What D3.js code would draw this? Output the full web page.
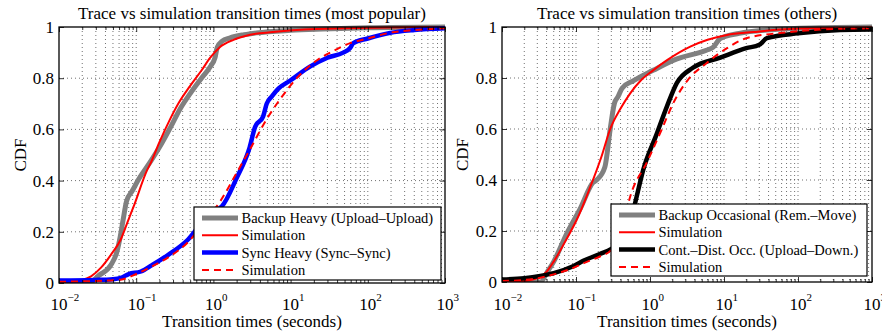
<!DOCTYPE html>
<html>
<head>
<meta charset="utf-8">
<script src="https://cdn.jsdelivr.net/npm/d3@7/dist/d3.min.js"></script>
<style>
  body { margin: 0; background: #fff; }
  text { font-family: "Liberation Serif", "Times New Roman", serif; fill: #000; }
</style>
</head>
<body>
<script>
// data: [seconds, CDF]
const backupHeavyTrace = [[0.01,0],[0.024,0],[0.033,0.03],[0.047,0.07],[0.056,0.12],[0.062,0.18],[0.068,0.25],[0.075,0.32],[0.089,0.36],[0.11,0.41],[0.15,0.47],[0.2,0.53],[0.28,0.61],[0.37,0.68],[0.5,0.74],[0.7,0.8],[0.91,0.845],[1.05,0.88],[1.12,0.92],[1.3,0.945],[1.62,0.957],[2.5,0.97],[3.6,0.977],[10,0.987],[26,0.992],[100,0.997],[1000,1]];
const backupHeavySim = [[0.01,0.004],[0.015,0.006],[0.02,0.012],[0.026,0.026],[0.035,0.06],[0.047,0.11],[0.063,0.17],[0.079,0.246],[0.093,0.3],[0.138,0.44],[0.155,0.47],[0.2,0.55],[0.275,0.64],[0.35,0.7],[0.5,0.77],[0.7,0.83],[0.91,0.88],[1.2,0.92],[1.82,0.95],[3,0.97],[5.9,0.98],[15,0.99],[50,0.995],[200,0.998],[1000,1]];
const syncHeavyTrace = [[0.01,0.01],[0.03,0.012],[0.05,0.015],[0.063,0.02],[0.08,0.035],[0.115,0.045],[0.16,0.07],[0.26,0.11],[0.47,0.17],[0.78,0.25],[1.0,0.28],[1.29,0.3],[2.0,0.41],[2.95,0.53],[3.47,0.61],[4.4,0.65],[4.9,0.7],[5.75,0.73],[7,0.76],[9.8,0.79],[17.8,0.845],[30,0.88],[48,0.9],[59,0.918],[65,0.937],[100,0.955],[195,0.977],[400,0.988],[1000,0.995]];
const syncHeavySim = [[0.01,0.005],[0.03,0.008],[0.063,0.013],[0.1,0.035],[0.16,0.065],[0.26,0.1],[0.47,0.16],[0.78,0.24],[1.23,0.32],[2.0,0.43],[2.95,0.52],[4.9,0.64],[7.2,0.715],[12,0.8],[22,0.87],[35,0.905],[59,0.937],[100,0.955],[195,0.978],[400,0.988],[1000,0.995]];

const backupOccTrace = [[0.01,0],[0.033,0],[0.041,0.04],[0.05,0.08],[0.075,0.19],[0.115,0.29],[0.17,0.39],[0.19,0.4],[0.245,0.45],[0.29,0.6],[0.33,0.7],[0.37,0.727],[0.42,0.76],[0.6,0.79],[1.1,0.83],[2.1,0.87],[5.9,0.91],[7.1,0.92],[8.9,0.955],[16,0.975],[48,0.99],[200,0.997],[1000,1]];
const backupOccSim = [[0.01,0],[0.02,0.004],[0.03,0.015],[0.04,0.04],[0.05,0.08],[0.075,0.17],[0.102,0.243],[0.15,0.36],[0.22,0.49],[0.29,0.6],[0.4,0.68],[0.54,0.74],[0.75,0.79],[1.1,0.83],[1.7,0.87],[3.5,0.923],[6,0.95],[11,0.969],[25,0.98],[46,0.988],[150,0.995],[1000,0.998]];
const contDistTrace = [[0.01,0.01],[0.02,0.015],[0.033,0.024],[0.05,0.035],[0.093,0.063],[0.13,0.085],[0.21,0.11],[0.3,0.13],[0.45,0.17],[0.56,0.25],[0.63,0.31],[0.81,0.44],[1.23,0.58],[1.7,0.69],[2.3,0.78],[3.8,0.84],[8.9,0.88],[20,0.917],[30,0.93],[38,0.956],[100,0.975],[370,0.988],[1000,0.99]];
const contDistSim = [[0.01,0.004],[0.02,0.008],[0.033,0.017],[0.05,0.03],[0.093,0.056],[0.13,0.075],[0.21,0.1],[0.3,0.125],[0.4,0.18],[0.54,0.335],[0.91,0.47],[1.5,0.61],[2.05,0.7],[3.2,0.79],[5.9,0.86],[11,0.917],[20,0.956],[78,0.98],[200,0.99],[1000,0.995]];

const xDecades = [-2, -1, 0, 1, 2, 3];
const yTicks = [0, 0.2, 0.4, 0.6, 0.8, 1];
const yTickLabels = ["0", "0.2", "0.4", "0.6", "0.8", "1"];

const panels = [
  {
    title: "Trace vs simulation transition times (most popular)",
    box: {x0: 59, x1: 445, y0: 27, y1: 283},
    yLabelX: 20,
    legend: {x: 194, y: 207, w: 247, h: 73},
    series: [
      {name: "Backup Heavy (Upload\u2013Upload)", data: backupHeavyTrace, color: "#808080", width: 5},
      {name: "Simulation", data: backupHeavySim, color: "#ff0000", width: 2},
      {name: "Sync Heavy (Sync\u2013Sync)", data: syncHeavyTrace, color: "#0000ff", width: 4.5},
      {name: "Simulation", data: syncHeavySim, color: "#ff0000", width: 2, dash: "7,5"}
    ]
  },
  {
    title: "Trace vs simulation transition times (others)",
    box: {x0: 502, x1: 872, y0: 27, y1: 282},
    yLabelX: 462,
    legend: {x: 611, y: 204, w: 256, h: 72},
    series: [
      {name: "Backup Occasional (Rem.\u2013Move)", data: backupOccTrace, color: "#808080", width: 5},
      {name: "Simulation", data: backupOccSim, color: "#ff0000", width: 2},
      {name: "Cont.\u2013Dist. Occ. (Upload\u2013Down.)", data: contDistTrace, color: "#000000", width: 4.5},
      {name: "Simulation", data: contDistSim, color: "#ff0000", width: 2, dash: "7,5"}
    ]
  }
];

const svg = d3.select("body").append("svg")
  .attr("width", 882)
  .attr("height", 331);

panels.forEach((p, i) => drawPanel(p, i));

function drawPanel(p, i) {
  const b = p.box;
  const x = d3.scaleLog().domain([0.01, 1000]).range([b.x0, b.x1]);
  const y = d3.scaleLinear().domain([0, 1]).range([b.y1, b.y0]);
  const g = svg.append("g");

  // minor x values for grid and small ticks
  const minor = [];
  for (let d = -2; d < 3; d++) {
    for (let k = 2; k <= 9; k++) minor.push(k * Math.pow(10, d));
  }
  const major = xDecades.map(d => Math.pow(10, d));

  const grid = g.append("g")
    .attr("stroke", "#333")
    .attr("stroke-width", 0.7)
    .attr("stroke-dasharray", "1,3");
  grid.selectAll(".vx")
    .data(minor.concat(major.slice(1, -1)))
    .enter().append("line")
    .attr("x1", d => x(d)).attr("x2", d => x(d))
    .attr("y1", b.y0).attr("y2", b.y1);
  grid.selectAll(".hy")
    .data(yTicks.slice(1, -1))
    .enter().append("line")
    .attr("x1", b.x0).attr("x2", b.x1)
    .attr("y1", d => y(d)).attr("y2", d => y(d));

  // curves
  const clipId = "clip" + i;
  svg.append("clipPath").attr("id", clipId)
    .append("rect")
    .attr("x", b.x0).attr("y", b.y0 - 3)
    .attr("width", b.x1 - b.x0).attr("height", b.y1 - b.y0 + 3);
  const line = d3.line()
    .x(d => x(d[0]))
    .y(d => y(d[1]))
    .curve(d3.curveMonotoneX);
  g.append("g").attr("clip-path", `url(#${clipId})`)
    .selectAll("path")
    .data(p.series)
    .enter().append("path")
    .attr("d", d => line(d.data))
    .attr("fill", "none")
    .attr("stroke", d => d.color)
    .attr("stroke-width", d => d.width)
    .attr("stroke-dasharray", d => d.dash || null)
    .attr("stroke-linejoin", "round");

  // axes (ticks pointing inward, on all four sides)
  const axB = d3.axisBottom(x).tickValues(major).tickSizeInner(-5).tickSizeOuter(0).tickFormat("");
  const axT = d3.axisTop(x).tickValues(major).tickSizeInner(-5).tickSizeOuter(0).tickFormat("");
  const axBm = d3.axisBottom(x).tickValues(minor).tickSizeInner(-3).tickSizeOuter(0).tickFormat("");
  const axTm = d3.axisTop(x).tickValues(minor).tickSizeInner(-3).tickSizeOuter(0).tickFormat("");
  const axL = d3.axisLeft(y).tickValues(yTicks).tickSizeInner(-5).tickSizeOuter(0).tickFormat("");
  const axR = d3.axisRight(y).tickValues(yTicks).tickSizeInner(-5).tickSizeOuter(0).tickFormat("");
  [[axB, `translate(0,${b.y1})`], [axBm, `translate(0,${b.y1})`],
   [axT, `translate(0,${b.y0})`], [axTm, `translate(0,${b.y0})`],
   [axL, `translate(${b.x0},0)`], [axR, `translate(${b.x1},0)`]].forEach(([ax, tr]) => {
    const a = g.append("g").attr("transform", tr).call(ax);
    a.select(".domain").remove();
    a.selectAll("line").attr("stroke", "#000").attr("stroke-width", 0.8);
  });

  g.append("rect")
    .attr("x", b.x0).attr("y", b.y0)
    .attr("width", b.x1 - b.x0).attr("height", b.y1 - b.y0)
    .attr("fill", "none").attr("stroke", "#000").attr("stroke-width", 1.3);

  // x tick labels 10^d
  const xl = g.selectAll(".xl")
    .data(xDecades)
    .enter().append("text")
    .attr("x", d => x(Math.pow(10, d)) - 8.5)
    .attr("y", 310)
    .style("font-size", "17px");
  xl.append("tspan").text("10");
  xl.append("tspan")
    .attr("dy", -9)
    .style("font-size", "11px")
    .text(d => d < 0 ? "\u2212" + (-d) : String(d));

  // y tick labels
  g.selectAll(".yl")
    .data(yTicks)
    .enter().append("text")
    .attr("x", b.x0 - 5)
    .attr("y", d => y(d) + 6)
    .attr("text-anchor", "end")
    .style("font-size", "17px")
    .text((d, k) => yTickLabels[k]);

  // titles
  g.append("text")
    .attr("x", (b.x0 + b.x1) / 2).attr("y", 19)
    .attr("text-anchor", "middle")
    .style("font-size", "17px")
    .text(p.title);
  g.append("text")
    .attr("x", (b.x0 + b.x1) / 2).attr("y", 327)
    .attr("text-anchor", "middle")
    .style("font-size", "17px")
    .text("Transition times (seconds)");
  g.append("text")
    .attr("transform", `translate(${p.yLabelX + 6},${(b.y0 + b.y1) / 2}) rotate(-90)`)
    .attr("text-anchor", "middle")
    .style("font-size", "17px")
    .text("CDF");

  // legend
  const L = p.legend;
  const lg = g.append("g").attr("transform", `translate(${L.x},${L.y})`);
  lg.append("rect")
    .attr("width", L.w).attr("height", L.h)
    .attr("fill", "#fff").attr("stroke", "#000").attr("stroke-width", 1.2);
  const rows = lg.selectAll(".row")
    .data(p.series)
    .enter().append("g")
    .attr("transform", (d, k) => `translate(0,${11 + k * 17.3})`);
  rows.append("line")
    .attr("x1", 8).attr("x2", 44)
    .attr("stroke", d => d.color)
    .attr("stroke-width", d => d.width)
    .attr("stroke-dasharray", d => d.dash || null);
  rows.append("text")
    .attr("x", 47.5).attr("y", 5)
    .style("font-size", "14.5px")
    .text(d => d.name);
}
</script>
</body>
</html>
